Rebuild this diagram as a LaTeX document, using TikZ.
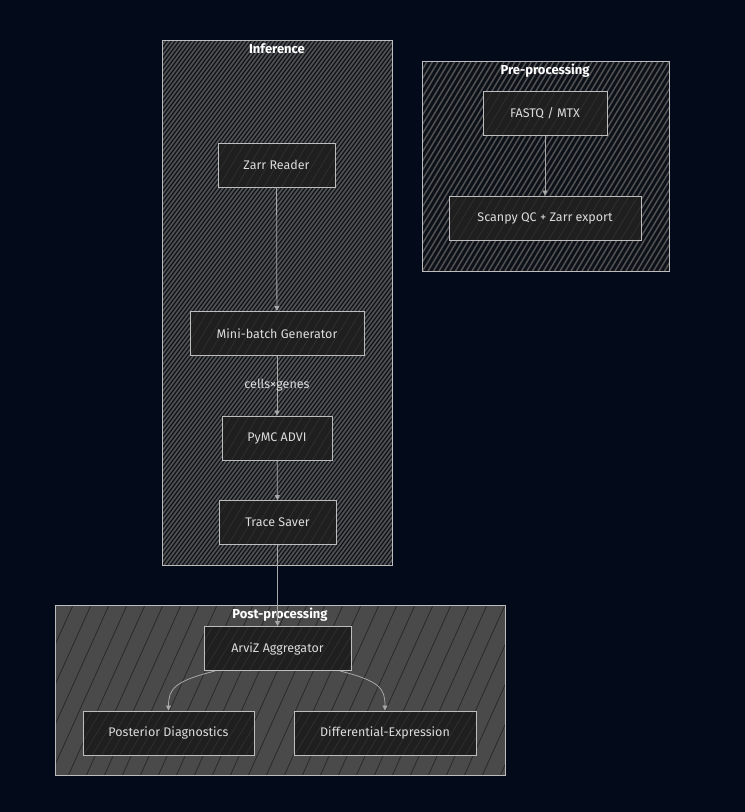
\documentclass[tikz,border=0pt]{standalone}
\usepackage{fontspec}
\setmainfont{Fira Sans}
\usetikzlibrary{arrows.meta}
\definecolor{bgc}{HTML}{030A1A}
\definecolor{clfill}{HTML}{0C1019}
\definecolor{boxline}{HTML}{BDBDBD}
\definecolor{nodefill}{HTML}{1F1F1F}
\definecolor{nodehatch}{HTML}{363636}
\definecolor{txt}{HTML}{DCDCDC}
\definecolor{edgec}{HTML}{A8A8A8}
\definecolor{clhatch}{HTML}{515151}
\definecolor{postfill}{HTML}{4A4A4A}
\definecolor{postline}{HTML}{2A2A2A}
\newcommand{\hatchbox}[8]{%
  \begin{scope}
    \clip (#1,#2) rectangle (#3,#4);
    \pgfmathsetmacro\hh{(#4-#2)*#8}
    \pgfmathsetmacro\hstart{#1-\hh}
    \pgfmathsetmacro\hnext{\hstart+#5}
    \foreach \s in {\hstart,\hnext,...,#3} {
      \draw[color=#6,line width=#7] (\s,#4) -- ({\s+\hh},#2);
    }
  \end{scope}}
\tikzset{
  box/.style={draw=boxline, line width=0.9pt, text=txt, minimum height=44, inner sep=0pt, font=\fontsize{12.5}{14}\selectfont},
  cluster/.style={draw=boxline, line width=0.8pt},
  ctitle/.style={text=white, font=\fontsize{13}{15}\selectfont\bfseries},
  edge/.style={draw=edgec, line width=0.8pt, -{Triangle[length=5pt,width=5pt]}},
  elabel/.style={text=txt, font=\fontsize{12.5}{14}\selectfont}
}
\begin{document}
\begin{tikzpicture}[x=1pt,y=-1pt]
\useasboundingbox (0,0) rectangle (745,812);
\fill[bgc] (0,0) rectangle (745,812);
% clusters
\fill[clfill] (162,40) rectangle (392,565);
\hatchbox{162}{40}{392}{565}{4}{clhatch}{1.7pt}{0.75}
\draw[cluster] (162,40) rectangle (392,565);
\node[ctitle] (tinf) at (277,49) {Inference};

\fill[clfill] (422,61) rectangle (669,271);
\hatchbox{422}{61}{669}{271}{5.5}{clhatch}{1.5pt}{0.6}
\draw[cluster] (422,61) rectangle (669,271);
\node[ctitle] (tpre) at (545,71) {Pre-processing};

\fill[postfill] (55,605) rectangle (505,775);
\hatchbox{55}{605}{505}{775}{18}{postline}{0.8pt}{0.45}
\draw[cluster] (55,605) rectangle (505,775);
\node[ctitle] (tpost) at (280,615) {Post-processing};

% node backgrounds
\foreach \l/\t/\r/\b in {218/143/335/187, 190/311/364/356, 222/416/332/460, 219/500/336/545, 483/92/607/135, 449/196/641/240, 204/626/351/671, 83/711/254/755, 294/711/476/755}{
  \fill[nodefill] (\l,\t) rectangle (\r,\b);
  \hatchbox{\l}{\t}{\r}{\b}{9}{nodehatch}{0.5pt}{0.6}
}
% nodes
\node[box, minimum width=117] (zarr) at (276.5,165) {Zarr Reader};
\node[box, minimum width=174] (mini) at (277,333.5) {Mini-batch Generator};
\node[box, minimum width=110] (pymc) at (277,438) {PyMC ADVI};
\node[box, minimum width=117] (trace) at (277.5,522.5) {Trace Saver};
\node[box, minimum width=124] (fastq) at (545,113.5) {FASTQ / MTX};
\node[box, minimum width=192] (scanpy) at (545,218) {Scanpy QC + Zarr export};
\node[box, minimum width=147] (arviz) at (277.5,648.5) {ArviZ Aggregator};
\node[box, minimum width=171] (post) at (168.5,733) {Posterior Diagnostics};
\node[box, minimum width=182] (diff) at (385,733) {Differential-Expression};
% edges
\draw[edge] (zarr) -- (mini);
\draw[edge] (mini) -- (pymc);
\node[elabel] (lab) at (277,385) {cells×genes};
\draw[edge] (pymc) -- (trace);
\draw[edge] (trace) -- (arviz);
\draw[edge] (fastq) -- (scanpy);
\coordinate (a1) at (215,671);
\coordinate (a2) at (340,671);
\draw[edge] (a1) .. controls +(-40,10) and +(0,-22) .. (post.north);
\draw[edge] (a2) .. controls +(40,10) and +(0,-22) .. (diff.north);
\end{tikzpicture}
\end{document}
